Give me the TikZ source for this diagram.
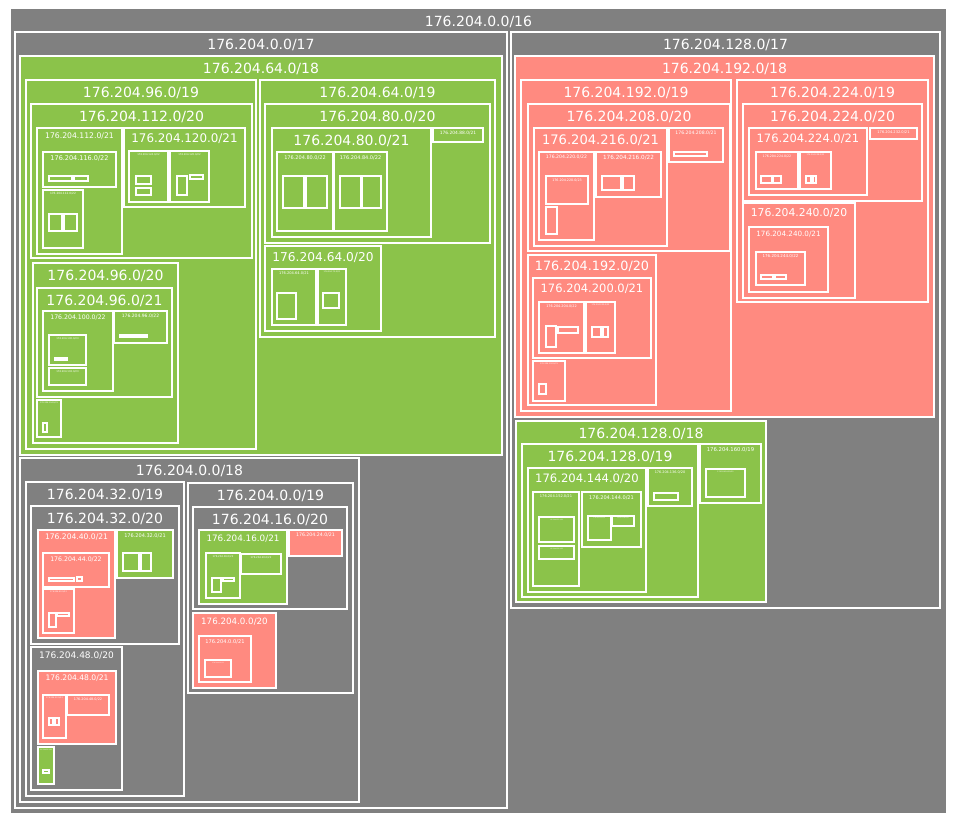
\documentclass[tikz,border=0pt]{standalone}
\usepackage{fontspec}
\setmainfont{DejaVu Sans}
\definecolor{gry}{RGB}{128,128,128}
\definecolor{grn}{RGB}{139,195,74}
\definecolor{rd}{RGB}{255,138,128}
\tikzset{
  rootbox/.style={fill=gry,draw=none},
  kbox/.style={fill=gry,draw=white,line width=1.8pt},
  gbox/.style={fill=grn,draw=white,line width=1.8pt},
  rbox/.style={fill=rd,draw=white,line width=1.8pt},
  leaf/.style={draw=white,line width=1.6pt},
  lbl/.style={text=white,anchor=base,inner sep=0pt}
}
\newcounter{netc}
% style, x1, y1, x2, y2, font size, label
\newcommand{\subnet}[7]{%
  \draw[#1] (#2,#3) rectangle (#4,#5);
  \pgfmathsetmacro{\labx}{(#2+#4)/2}
  \pgfmathsetmacro{\laby}{#3+1.11*#6+1.5}
  \stepcounter{netc}
  \node[lbl,font=\fontsize{#6}{#6}\selectfont] (net\arabic{netc}) at (\labx,\laby) {#7};
}
\begin{document}
\begin{tikzpicture}[x=1pt,y=-1pt]
\useasboundingbox (0,0) rectangle (954,821);
\subnet{rootbox}{11}{9}{946}{813}{14}{176.204.0.0/16}
\subnet{kbox}{15}{32}{507}{808}{14}{176.204.0.0/17}
\subnet{kbox}{511}{32}{940}{608}{14}{176.204.128.0/17}
%left half, upper /18
\subnet{gbox}{20}{56}{502}{455}{14}{176.204.64.0/18}
\subnet{gbox}{26}{80}{256}{449}{14}{176.204.96.0/19}
\subnet{gbox}{31}{104}{252}{258}{14}{176.204.112.0/20}
\subnet{gbox}{37}{128}{122}{254}{7.7}{176.204.112.0/21}
\subnet{gbox}{43}{152}{116}{187}{6.5}{176.204.116.0/22}
\draw[leaf] (49,176) rectangle (72,181) (74,176) rectangle (88,181);
\subnet{gbox}{43}{190}{83}{248}{2.9}{176.204.112.0/22}
\draw[leaf] (49,214) rectangle (62,231) (64,214) rectangle (77,231);
\subnet{gbox}{124}{128}{245}{207}{11.9}{176.204.120.0/21}
\subnet{gbox}{129}{151}{168}{202}{2.5}{176.204.124.0/22}
\draw[leaf] (136,176) rectangle (151,184) (136,188) rectangle (151,195);
\subnet{gbox}{170}{151}{209}{202}{2.5}{176.204.120.0/22}
\draw[leaf] (177,176) rectangle (187,195) (190,175) rectangle (203,179);
\subnet{gbox}{33}{263}{178}{443}{14}{176.204.96.0/20}
\subnet{gbox}{37}{288}{172}{397}{14}{176.204.96.0/21}
\subnet{gbox}{43}{311}{113}{391}{6.2}{176.204.100.0/22}
\subnet{gbox}{49}{335}{86}{365}{2.5}{176.204.100.0/23}
\draw[leaf] (55,358) rectangle (67,360);
\subnet{gbox}{49}{368}{86}{385}{2.5}{176.204.102.0/23}
\subnet{gbox}{114}{311}{167}{343}{4.5}{176.204.96.0/22}
\draw[leaf] (120,335) rectangle (147,337);
\subnet{gbox}{37}{400}{61}{437}{2}{176.204.104.0/21}
\draw[leaf] (43,423) rectangle (47,432);
\subnet{gbox}{260}{80}{495}{337}{14}{176.204.64.0/19}
\subnet{gbox}{265}{104}{490}{243}{14}{176.204.80.0/20}
\subnet{gbox}{272}{128}{431}{237}{14}{176.204.80.0/21}
\subnet{gbox}{277}{152}{333}{231}{5}{176.204.80.0/22}
\draw[leaf] (283,176) rectangle (304,208) (306,176) rectangle (327,208);
\subnet{gbox}{334}{152}{387}{231}{5}{176.204.84.0/22}
\draw[leaf] (340,176) rectangle (361,208) (362,176) rectangle (381,208);
\subnet{gbox}{433}{128}{483}{142}{4.4}{176.204.88.0/21}
\subnet{gbox}{265}{246}{381}{331}{12.2}{176.204.64.0/20}
\subnet{gbox}{272}{269}{316}{325}{3.6}{176.204.64.0/21}
\draw[leaf] (277,293) rectangle (296,319);
\subnet{gbox}{318}{269}{346}{325}{2}{176.204.72.0/21}
\draw[leaf] (323,293) rectangle (339,308);
%left half, lower /18
\subnet{kbox}{20}{458}{359}{802}{14}{176.204.0.0/18}
\subnet{kbox}{26}{482}{184}{796}{14}{176.204.32.0/19}
\subnet{kbox}{31}{506}{179}{644}{14}{176.204.32.0/20}
\subnet{rbox}{38}{530}{115}{638}{7.6}{176.204.40.0/21}
\subnet{rbox}{43}{553}{109}{587}{6.2}{176.204.44.0/22}
\draw[leaf] (49,578) rectangle (74,581) (77,577) rectangle (82,581);
\subnet{rbox}{43}{589}{74}{633}{2}{176.204.40.0/22}
\draw[leaf] (49,613) rectangle (56,627) (57,613) rectangle (69,616);
\subnet{gbox}{117}{530}{173}{578}{5}{176.204.32.0/21}
\draw[leaf] (123,553) rectangle (139,571) (141,553) rectangle (151,571);
\subnet{kbox}{31}{647}{122}{790}{9}{176.204.48.0/20}
\subnet{rbox}{38}{671}{116}{744}{7.6}{176.204.48.0/21}
\subnet{rbox}{43}{695}{66}{738}{2}{176.204.52.0/22}
\draw[leaf] (49,718) rectangle (53,725) (55,718) rectangle (59,725);
\subnet{rbox}{67}{695}{109}{715}{3.4}{176.204.48.0/22}
\subnet{gbox}{38}{747}{54}{784}{1.5}{176.204.56.0/21}
\draw[leaf] (43,770) rectangle (49,773);
\subnet{kbox}{188}{483}{353}{693}{14}{176.204.0.0/19}
\subnet{kbox}{193}{507}{347}{609}{14}{176.204.16.0/20}
\subnet{gbox}{199}{530}{287}{604}{8.8}{176.204.16.0/21}
\subnet{gbox}{206}{553}{240}{598}{2.5}{176.204.16.0/22}
\draw[leaf] (212,578) rectangle (221,592) (223,578) rectangle (234,581);
\subnet{gbox}{241}{554}{281}{574}{2.5}{176.204.20.0/22}
\subnet{rbox}{289}{530}{342}{556}{4.7}{176.204.24.0/21}
\subnet{rbox}{193}{613}{276}{688}{8.7}{176.204.0.0/20}
\subnet{rbox}{199}{636}{251}{682}{5.1}{176.204.0.0/21}
\subnet{rbox}{205}{660}{231}{677}{1.5}{176.204.0.0/22}
%right half, upper /18
\subnet{rbox}{515}{56}{934}{417}{14}{176.204.192.0/18}
\subnet{rbox}{521}{80}{731}{411}{14}{176.204.192.0/19}
\subnet{rbox}{528}{104}{730}{251}{14}{176.204.208.0/20}
\subnet{rbox}{534}{128}{667}{246}{13.1}{176.204.216.0/21}
\subnet{rbox}{539}{152}{594}{240}{4.6}{176.204.220.0/22}
\subnet{rbox}{546}{176}{588}{204}{3.3}{176.204.220.0/23}
\draw[leaf] (546,207) rectangle (557,234);
\subnet{rbox}{596}{152}{661}{197}{5.7}{176.204.216.0/22}
\draw[leaf] (602,176) rectangle (621,190) (623,176) rectangle (634,190);
\subnet{rbox}{669}{128}{723}{162}{4.6}{176.204.208.0/21}
\draw[leaf] (674,152) rectangle (707,156);
\subnet{rbox}{528}{255}{656}{405}{12.8}{176.204.192.0/20}
\subnet{rbox}{533}{278}{651}{358}{11.5}{176.204.200.0/21}
\subnet{rbox}{539}{302}{584}{353}{3.4}{176.204.204.0/22}
\draw[leaf] (546,326) rectangle (556,347) (558,327) rectangle (578,333);
\subnet{rbox}{586}{302}{615}{353}{2}{176.204.200.0/22}
\draw[leaf] (592,327) rectangle (601,337) (603,327) rectangle (608,337);
\subnet{rbox}{533}{361}{565}{401}{2}{176.204.192.0/21}
\draw[leaf] (539,384) rectangle (546,394);
\subnet{rbox}{737}{80}{928}{302}{14}{176.204.224.0/19}
\subnet{rbox}{743}{104}{922}{201}{14}{176.204.224.0/20}
\subnet{rbox}{749}{128}{867}{195}{11.5}{176.204.224.0/21}
\subnet{rbox}{756}{152}{798}{189}{3.2}{176.204.224.0/22}
\draw[leaf] (761,176) rectangle (772,183) (773,176) rectangle (781,183);
\subnet{rbox}{800}{152}{831}{189}{2}{176.204.228.0/22}
\draw[leaf] (806,176) rectangle (811,183) (813,176) rectangle (816,183);
\subnet{rbox}{870}{128}{917}{139}{3.6}{176.204.232.0/21}
\subnet{rbox}{743}{203}{855}{298}{10.8}{176.204.240.0/20}
\subnet{rbox}{749}{227}{828}{292}{7.2}{176.204.240.0/21}
\subnet{rbox}{756}{252}{805}{285}{4}{176.204.244.0/22}
\draw[leaf] (761,275) rectangle (773,279) (775,275) rectangle (786,279);
%right half, lower /18
\subnet{gbox}{516}{421}{766}{602}{14}{176.204.128.0/18}
\subnet{gbox}{522}{444}{698}{597}{14}{176.204.128.0/19}
\subnet{gbox}{528}{468}{646}{592}{11.6}{176.204.144.0/20}
\subnet{gbox}{533}{492}{579}{586}{3.6}{176.204.152.0/21}
\subnet{gbox}{539}{517}{574}{542}{1.5}{176.204.152.0/22}
\subnet{gbox}{539}{546}{574}{559}{1.5}{176.204.156.0/22}
\subnet{gbox}{582}{492}{641}{547}{5}{176.204.144.0/21}
\subnet{gbox}{588}{516}{611}{540}{1.3}{176.204.144.0/22}
\subnet{gbox}{612}{516}{634}{526}{1.3}{176.204.148.0/22}
\subnet{gbox}{648}{468}{692}{506}{3.4}{176.204.136.0/20}
\draw[leaf] (654,493) rectangle (678,500);
\subnet{gbox}{700}{444}{761}{503}{5.3}{176.204.160.0/19}
\subnet{gbox}{706}{469}{745}{497}{1.8}{176.204.160.0/20}
\end{tikzpicture}
\end{document}
